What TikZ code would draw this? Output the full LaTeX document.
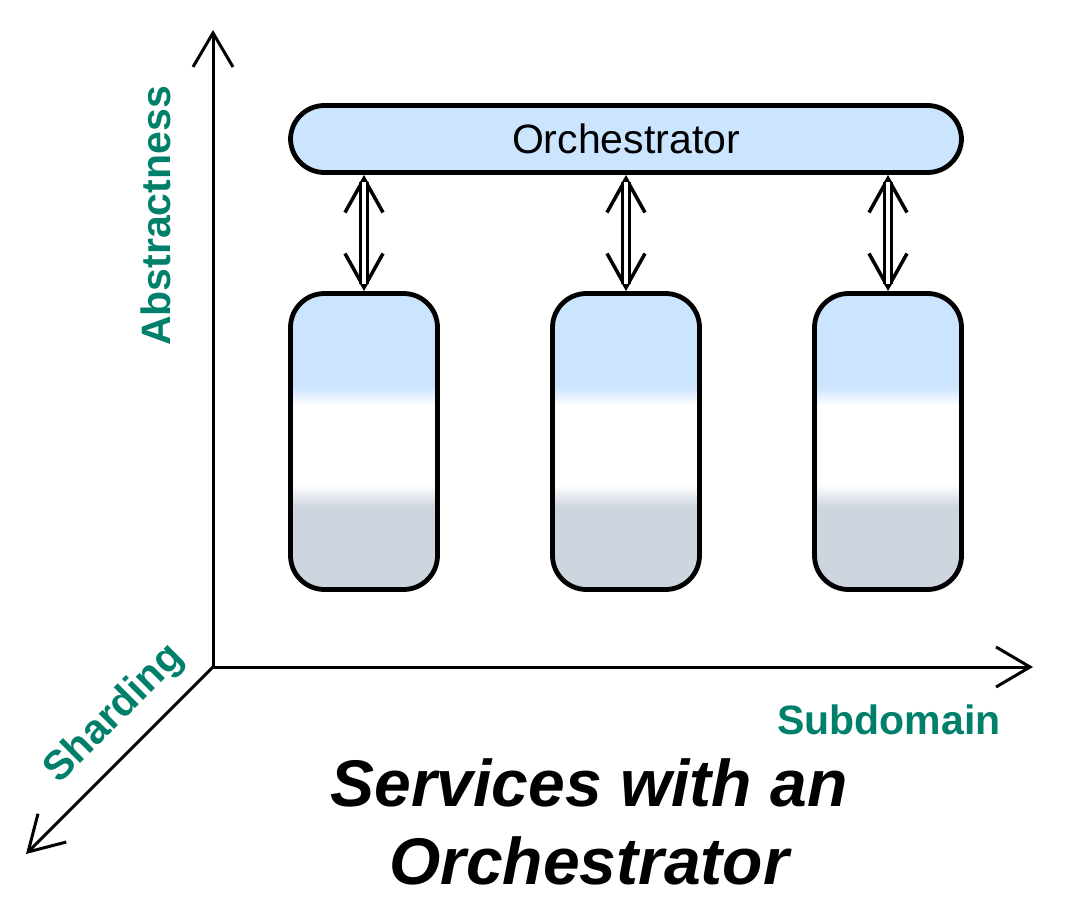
\documentclass[tikz,border=0pt]{standalone}
\usepackage{fontspec}
\setmainfont{Liberation Sans}
\usetikzlibrary{arrows.meta,calc}
\definecolor{oblue}{RGB}{204,229,255}
\definecolor{sgray}{RGB}{205,213,222}
\definecolor{axteal}{RGB}{0,128,107}
\pgfdeclareverticalshading{svcshade}{100bp}{color(0bp)=(sgray); color(39bp)=(sgray); color(42.7bp)=(white); color(56.1bp)=(white); color(59.2bp)=(oblue); color(100bp)=(oblue)}
\begin{document}
\begin{tikzpicture}[x=1pt,y=-1pt,
  axis/.style={line width=3pt},
  barb/.tip={Straight Barb[length=34pt,width=40pt]},
  lbl/.style={font=\fontsize{41}{49}\selectfont\bfseries, text=axteal, inner sep=0pt},
  orchbox/.style={draw, line width=4.8pt, fill=oblue, rounded corners=34pt, minimum width=671pt, minimum height=67pt, inner sep=0pt, font=\fontsize{41}{49}\selectfont},
  svc/.style={draw, line width=4.8pt, rounded corners=34pt, minimum width=147pt, minimum height=296pt, inner sep=0pt, shading=svcshade},
  head/.style={line width=3.5pt, {Straight Barb[length=34pt,width=38pt]}-{Straight Barb[length=34pt,width=38pt]}},
  shaft/.style={line width=3pt, double, double distance=4pt, shorten <=7pt, shorten >=7pt},
  titlef/.style={font=\fontsize{66}{78}\selectfont\bfseries\itshape, align=center, inner sep=0pt}]
\useasboundingbox (0,0) rectangle (1065,915);

% axes
\coordinate (O) at (213,667);
\coordinate (ytip) at (213,30);
\coordinate (xtip) at (1033,667);
\coordinate (ztip) at (26,854);
\draw[axis, barb-barb] (ytip) -- (O) -- (xtip);
\draw[axis, -barb] (O) -- (ztip);

% boxes
\node[orchbox] (orch) at (626,139) {Orchestrator};
\node[svc] (b1) at (364,441.5) {};
\node[svc] (b2) at (626,441.5) {};
\node[svc] (b3) at (888,441.5) {};

\foreach \i in {1,2,3}{
  \coordinate (t\i) at (orch.south -| b\i.north);
  \draw[head] (t\i) -- (b\i.north);
  \draw[shaft] (t\i) -- (b\i.north);
}

% labels
\node[lbl, rotate=90, anchor=base] (abs) at (170,216) {Abstractness};
\node[lbl, anchor=base] (sub) at (889,734) {Subdomain};
\node[lbl, rotate=45, anchor=base] (shard) at (122,722) {Sharding};
\node[titlef, anchor=base] (title) at (589,884) {Services with an\\Orchestrator};
\end{tikzpicture}
\end{document}
